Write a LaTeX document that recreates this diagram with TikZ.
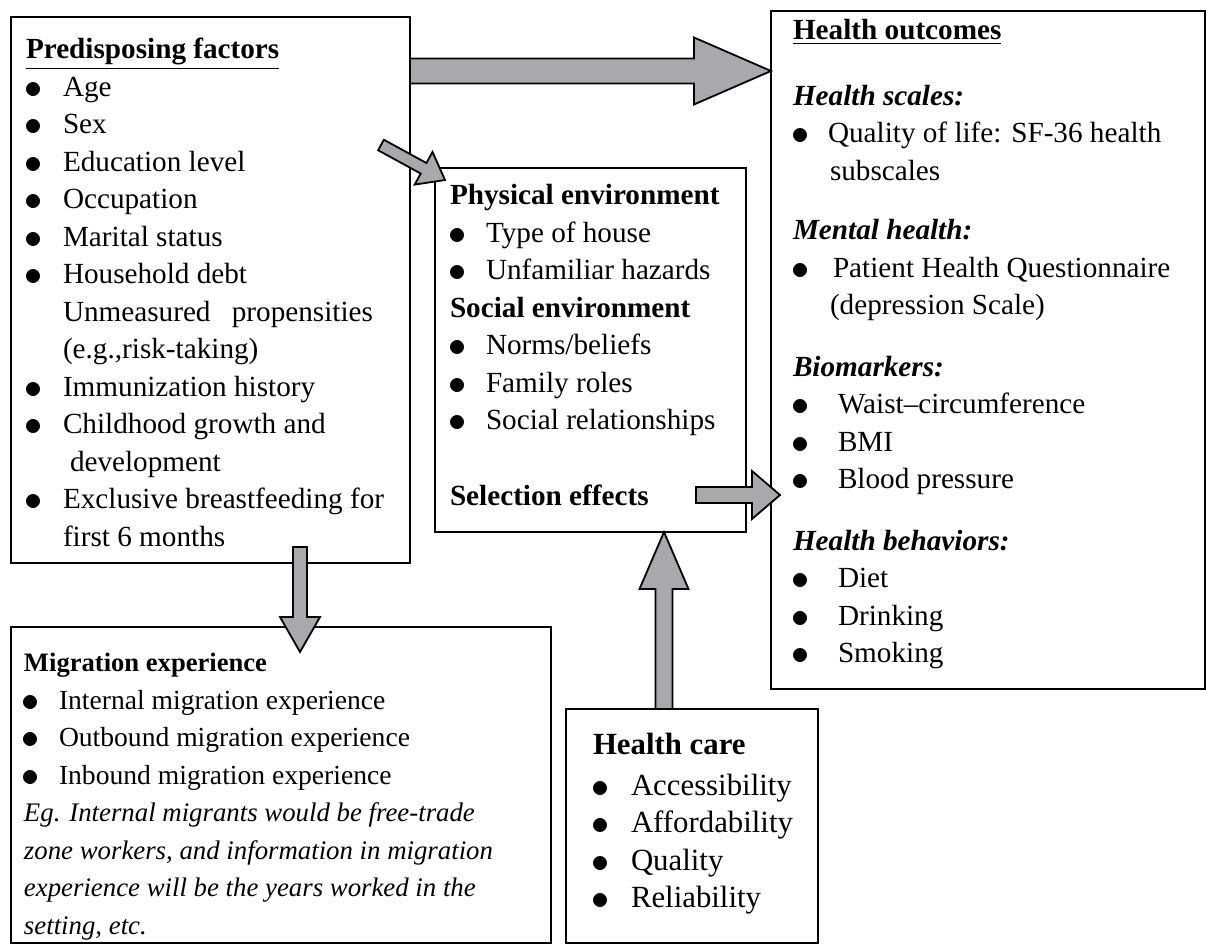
\documentclass[tikz,border=0pt]{standalone}
\usepackage{fontspec}
\setmainfont{Liberation Serif}
\usepackage{tikz}
\usetikzlibrary{calc,positioning}

\definecolor{arrowgray}{HTML}{A7A9AC}

\tikzset{
    x=0.5pt, y=-0.5pt,
    box/.style={draw, line width=1pt, inner sep=0pt, outer sep=0pt, anchor=north west},
    boxtext/.style={inner sep=0pt, outer sep=0pt, anchor=base west},
    fatarrow/.style={draw, fill=arrowgray, line width=0.9pt, line join=miter},
}

% round bullet and bullet item with a given indent
\newcommand\dotmark{\makebox[0pt][l]{\unitlength=1pt\begin{picture}(0,0)\put(3.5,3.7){\circle*{7}}\end{picture}}}
\newcommand\bul[2][18.5pt]{\makebox[#1][l]{\dotmark}#2}
\newcommand\linesbox[3]{\parbox[t]{#1}{\raggedright\fontsize{#2}{18.75pt}\selectfont #3}}

% block arrow: from, to, shaft half width, head half width, head length (pt)
\newcommand\fatarrow[5]{%
    \draw[fatarrow] let \p1=($(#2)-(#1)$), \n1={atan2(\y1,\x1)}, \n2={veclen(\x1,\y1)} in
        [shift={(#1)}, rotate=\n1]
        (0pt,{#3*1pt}) -- ({(\n2-#5)*1pt},{#3*1pt}) -- ({(\n2-#5)*1pt},{#4*1pt})
        -- ({\n2*1pt},0pt) -- ({(\n2-#5)*1pt},{-#4*1pt}) -- ({(\n2-#5)*1pt},{-#3*1pt})
        -- (0pt,{-#3*1pt}) -- cycle;}

\begin{document}
\begin{tikzpicture}
    \useasboundingbox (0,0) rectangle (1206,945);

    % Boxes
    \node[box, minimum width=199.5pt, minimum height=273pt] (pre) at (11,17) {};
    \node[box, minimum width=155.5pt, minimum height=182pt] (mid) at (435,168) {};
    \node[box, minimum width=217pt, minimum height=339pt] (out) at (771,11) {};
    \node[box, minimum width=270pt, minimum height=158pt] (mig) at (11,627) {};
    \node[box, minimum width=126pt, minimum height=117pt] (hc) at (566,709) {};

    % Predisposing factors
    \node[boxtext] (pretxt) at (26,59) {\linesbox{190pt}{14.6pt}{%
        \textbf{\underline{Predisposing factors}}\\
        \bul{Age}\\
        \bul{Sex}\\
        \bul{Education level}\\
        \bul{Occupation}\\
        \bul{Marital status}\\
        \bul{Household debt}\\
        \hspace*{18.5pt}\makebox[155pt][s]{Unmeasured propensities}\\
        \hspace*{18.5pt}(e.g.,risk-taking)\\
        \bul{Immunization history}\\
        \bul{Childhood growth and}\\
        \hspace*{22pt}development\\
        \bul{Exclusive breastfeeding for}\\
        \hspace*{18.5pt}first 6 months}};

    % Environment
    \node[boxtext] (midtxt) at (450,205) {\linesbox{150pt}{14.6pt}{%
        \textbf{Physical environment}\\
        \bul[18pt]{Type of house}\\
        \bul[18pt]{Unfamiliar hazards}\\
        \textbf{Social environment}\\
        \bul[18pt]{Norms/beliefs}\\
        \bul[18pt]{Family roles}\\
        \bul[18pt]{Social relationships}\\[19pt]
        \textbf{Selection effects}}};

    % Health outcomes
    \node[boxtext] (outtxt) at (793,40) {\linesbox{205pt}{14.6pt}{%
        \textbf{\underline{Health outcomes}}\\[14pt]
        \textbf{\textit{Health scales:}}\\
        \bul[17.5pt]{Quality of life: SF-36 health}\\
        \hspace*{18.5pt}subscales\\[11pt]
        \textbf{\textit{Mental health:}}\\
        \bul[20pt]{Patient Health Questionnaire}\\
        \hspace*{18.5pt}(depression Scale)\\[12pt]
        \textbf{\textit{Biomarkers:}}\\
        \bul[22.5pt]{Waist--circumference}\\
        \bul[22.5pt]{BMI}\\
        \bul[22.5pt]{Blood pressure}\\[12pt]
        \textbf{\textit{Health behaviors:}}\\
        \bul[22.5pt]{Diet}\\
        \bul[22.5pt]{Drinking}\\
        \bul[22.5pt]{Smoking}}};

    % Migration experience
    \node[boxtext] (migtxt) at (24,672) {\linesbox{265pt}{13.8pt}{%
        {\fontsize{13.3pt}{18.7pt}\selectfont\textbf{Migration experience}}\\
        \bul[17.5pt]{Internal migration experience}\\
        \bul[17.5pt]{Outbound migration experience}\\
        \bul[17.5pt]{Inbound migration experience}\\
        {\fontsize{13.4pt}{18.7pt}\selectfont\itshape
        Eg. Internal migrants would be free-trade\\
        zone workers, and information in migration\\
        experience will be the years worked in the\\
        setting, etc.}}};

    % Health care
    \node[boxtext] (hctxt) at (593,755) {\linesbox{120pt}{15.4pt}{%
        \textbf{Health care}\\[1.5pt]
        \bul[19pt]{Accessibility}\\
        \bul[19pt]{Affordability}\\
        \bul[19pt]{Quality}\\
        \bul[19pt]{Reliability}}};

    % Arrows
    \coordinate (bigtail) at ($(pre.north east)+(0,54)$);
    \coordinate (bigtip) at (out.west |- bigtail);
    \fatarrow{bigtail}{bigtip}{6.25}{16.75}{38.5}

    \coordinate (dtip) at ($(mid.north west)+(10,12)$);
    \coordinate (dtail) at ($(dtip)+(-64,-35)$);
    \fatarrow{dtail}{dtip}{3}{9.3}{12.2}

    \coordinate (stip) at ($(out.north west)+(9,484)$);
    \coordinate (stail) at ($(stip)+(-84,0)$);
    \fatarrow{stail}{stip}{4}{12}{14}

    \coordinate (utail) at ($(hc.north west)+(98,0)$);
    \coordinate (utip) at (utail |- mid.south);
    \fatarrow{utail}{utip}{4.25}{12.25}{28.5}

    \coordinate (dntail) at ($(pre.south west)+(289,-16)$);
    \coordinate (dntip) at ($(dntail)+(0,105)$);
    \fatarrow{dntail}{dntip}{3.5}{10}{17.5}
\end{tikzpicture}
\end{document}
